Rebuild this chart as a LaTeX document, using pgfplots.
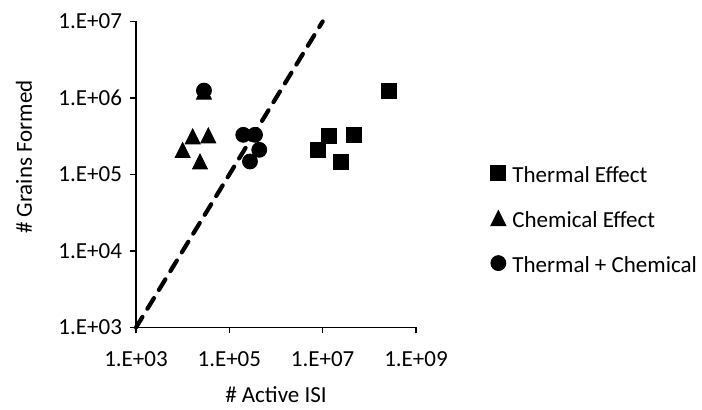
\documentclass[border=0pt]{standalone}
\usepackage{fontspec}
\setmainfont{Carlito}
\usepackage{pgfplots}
\pgfplotsset{compat=1.18}

% triangle as Excel draws it: apex at top, base at bottom of a square box
\pgfdeclareplotmark{xtri}{%
  \pgfpathmoveto{\pgfqpoint{0pt}{\pgfplotmarksize}}%
  \pgfpathlineto{\pgfqpoint{\pgfplotmarksize}{-\pgfplotmarksize}}%
  \pgfpathlineto{\pgfqpoint{-\pgfplotmarksize}{-\pgfplotmarksize}}%
  \pgfpathclose
  \pgfusepathqfillstroke}

\begin{document}
\fontsize{11.5}{13.8}\selectfont
\begin{tikzpicture}
\begin{axis}[
    scale only axis,
    width=140pt, height=153pt,
    xmode=log, ymode=log,
    xmin=1e3, xmax=1e9,
    ymin=1e3, ymax=1e7,
    axis x line=bottom, axis y line=left,
    axis line style={-, line width=0.6pt},
    tick align=outside,
    major tick length=3pt,
    tick style={line width=0.6pt, black},
    xminorticks=false, yminorticks=false,
    xtick={1e3,1e5,1e7,1e9},
    xticklabels={1.E+03,1.E+05,1.E+07,1.E+09},
    ytick={1e3,1e4,1e5,1e6,1e7},
    yticklabels={1.E+03,1.E+04,1.E+05,1.E+06,1.E+07},
    tick label style={font=\fontsize{11.5}{13.8}\selectfont},
    x tick label style={yshift=-5pt},
    xlabel={\# Active ISI},
    ylabel={\# Grains Formed},
    every axis x label/.style={at={(axis description cs:0.5,-0.2206)}, anchor=center},
    every axis y label/.style={at={(axis description cs:-0.40,0.557)}, anchor=center, rotate=90},
    label style={font=\fontsize{11.5}{13.8}\selectfont},
    clip=false,
    legend style={
        at={(axis description cs:1.266,0.355)}, anchor=west,
        draw=none, fill=none, inner sep=0pt,
        column sep=3.25pt, row sep=14.25pt,
        font=\fontsize{11.5}{13.8}\selectfont,
        nodes={inner sep=0pt, text height=7.4pt, text depth=0pt},
        cells={anchor=west},
    },
    legend image code/.code={\draw[#1] plot coordinates {(3.75pt,0.8pt)};},
]

\addplot[only marks, mark=square*, mark size=3.75pt, black, mark options={fill=black}]
    coordinates {
(2.6e8,1.25e6)(1.39e7,3.19e5)(4.76e7,3.27e5)(7.8e6,2.09e5)(2.43e7,1.48e5)
    };
\addlegendentry{Thermal Effect}

\addplot[only marks, mark=xtri, mark size=3.75pt, black, mark options={fill=black}]
    coordinates {
(2.86e4,1.21e6)(1.64e4,3.15e5)(3.54e4,3.24e5)(1.0e4,2.09e5)(2.35e4,1.48e5)
    };
\addlegendentry{Chemical Effect}

\addplot[only marks, mark=*, mark size=3.75pt, black, mark options={fill=black}]
    coordinates {
(2.86e4,1.25e6)(1.99e5,3.3e5)(3.55e5,3.3e5)(4.38e5,2.1e5)(2.77e5,1.48e5)
    };
\addlegendentry{Thermal + Chemical}

\addplot[black, line width=2.1pt, line cap=round, dash pattern=on 6.2pt off 4.8pt, forget plot]
    coordinates {(1e3,1e3)(1e7,1e7)};

\end{axis}
\pgfresetboundingbox
\path (-68pt,-41.25pt) rectangle (283pt,163.75pt);
\end{tikzpicture}
\end{document}
